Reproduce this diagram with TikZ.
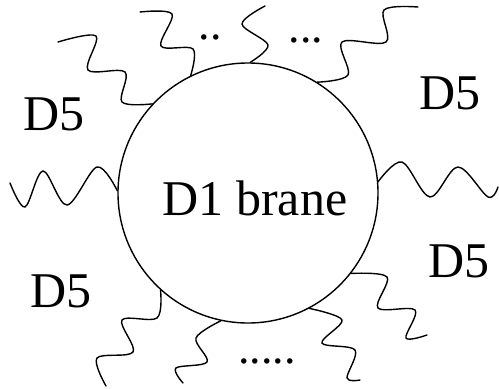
\documentclass[tikz,border=0pt]{standalone}
\usepackage{fontspec}
\setmainfont{Liberation Serif}
\tikzset{
  wave/.style={line width=1.4pt, line cap=round, smooth, tension=0.55},
  bigtext/.style={inner sep=0pt, font=\fontsize{50}{50}\selectfont},
  dots/.style={inner sep=0pt, font=\fontsize{46}{46}\selectfont},
}

\begin{document}
\begin{tikzpicture}[x=1pt, y=-1pt]
            \useasboundingbox (0,0) rectangle (499,389);
            \node[draw, circle, line width=1.4pt, minimum size=260pt, inner sep=0pt] (brane) at (248,193) {};
            \node[bigtext] (name) at (255,198) {D1 brane};
            \node[bigtext] (d5a) at (54,114) {D5};
            \node[bigtext] (d5b) at (450,93) {D5};
            \node[bigtext] (d5c) at (459,261) {D5};
            \node[bigtext] (d5d) at (61,291) {D5};
            \node[dots] (dt1) at (210,37) {..};
            \node[dots] (dt2) at (306,40) {...};
            \node[dots] (dt3) at (267,361) {.....};
            % strings ending on the brane
            \draw[wave] plot coordinates {(brane.137) (122,102) (125,72) (88,70) (96,36) (58,42)};
            \draw[wave] plot coordinates {(brane.116) (193,49) (161,46) (172,14) (140,12)};
            \draw[wave] plot coordinates {(brane.89) (268,45) (242,24) (265,6)};
            \draw[wave] plot coordinates {(brane.58) (348,75) (342,42) (386,42) (384,10) (418,7)};
            \draw[wave] plot coordinates {(brane.179) (97,167) (67,205) (43,171) (25,207) (10,183)};
            \draw[wave] plot coordinates {(brane.5) (402,162) (430,197) (458,167) (488,197) (498,187)};
            \draw[wave] plot coordinates {(brane.228) (157,318) (122,320) (133,352) (97,358) (106,386)};
            \draw[wave] plot coordinates {(brane.258) (196,338) (207,362) (176,368) (183,383)};
            \draw[wave] plot coordinates {(brane.322) (387,277) (378,308) (415,310) (406,338) (427,335)};
            \draw[wave] plot coordinates {(brane.298) (342,320) (322,343) (355,350) (347,378) (360,380)};
\end{tikzpicture}
\end{document}
